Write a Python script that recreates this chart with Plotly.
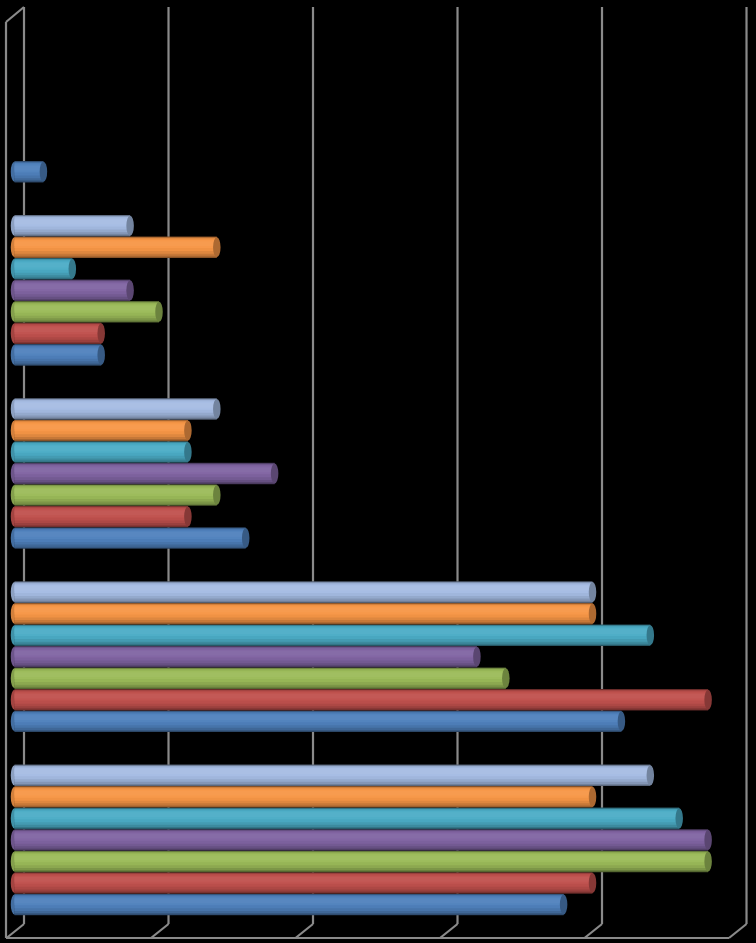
import plotly.graph_objects as go

# ---- data (categories bottom -> top; no labels are shown in the chart) ----
CATEGORIES = ["1", "2", "3", "4", "5"]
SERIES_NAMES = ["S1", "S2", "S3", "S4", "S5", "S6", "S7"]
blue = [19, 21, 8, 3, 1]
red = [20, 24, 6, 3, None]
green = [24, 17, 7, 5, None]
purple = [24, 16, 9, 4, None]
teal = [23, 22, 6, 2, None]
orange = [20, 20, 6, 7, None]
lightblue = [22, 20, 7, 4, None]
GRID_TICKS = [0, 5, 10, 15, 20, 25]

SERIES = [blue, red, green, purple, teal, orange, lightblue]
COLORS = ["#4F81BD", "#C0504D", "#9BBB59", "#8064A2", "#4BACC6", "#F79646", "#A5BCE3"]

W_PX, H_PX = 756, 943
BAR_W = 0.1175                     # thickness of one cylinder (category units)
GROUP = BAR_W * len(SERIES)
X_RANGE = [-0.502, 25.657]
Y_RANGE = [-0.5, 4.5]
Y_DOMAIN = [(H_PX - 931.5) / H_PX, (H_PX - 15.5) / H_PX]


def shade(hexc, f):
    r, g, b = int(hexc[1:3], 16), int(hexc[3:5], 16), int(hexc[5:7], 16)
    if f <= 1:
        r, g, b = r * f, g * f, b * f
    else:
        t = f - 1
        r, g, b = r + (255 - r) * t, g + (255 - g) * t, b + (255 - b) * t
    return "#%02x%02x%02x" % (int(round(r)), int(round(g)), int(round(b)))


# shading bands across the cylinder thickness (bottom frac, top frac, factor)
BANDS = [(0.0, 1.0, 0.50), (0.04, 0.97, 0.68), (0.10, 0.95, 0.80),
         (0.20, 0.93, 0.90), (0.32, 0.90, 0.97), (0.46, 0.84, 1.02),
         (0.56, 0.78, 1.05)]

fig = go.Figure()
shapes = []

# ---- 3D frame / grid (drawn under the bars) ----
GRAY = "#8a8a8a"
LW = 2.2


def py(p):  # pixel row -> paper fraction
    return 1 - p / H_PX


px_per_unit = (W_PX) / (X_RANGE[1] - X_RANGE[0])
back_dx = 9.5 / px_per_unit
floor_dx = 17.5 / px_per_unit
for t in GRID_TICKS:
    xb = t + back_dx
    shapes.append(dict(type="line", xref="x", yref="paper", x0=xb, x1=xb,
                       y0=py(924), y1=py(7), line=dict(color=GRAY, width=LW), layer="below"))
    shapes.append(dict(type="line", xref="x", yref="paper", x0=xb, x1=xb - floor_dx,
                       y0=py(924), y1=py(938), line=dict(color=GRAY, width=LW), layer="below"))
xl = GRID_TICKS[0] + back_dx - 18 / px_per_unit
# front floor edge
shapes.append(dict(type="line", xref="x", yref="paper", x0=xl,
                   x1=GRID_TICKS[-1] + back_dx - floor_dx,
                   y0=py(938), y1=py(938), line=dict(color=GRAY, width=LW), layer="below"))
# left wall
shapes.append(dict(type="line", xref="x", yref="paper", x0=xl, x1=xl,
                   y0=py(938), y1=py(22), line=dict(color=GRAY, width=LW), layer="below"))
shapes.append(dict(type="line", xref="x", yref="paper", x0=xl, x1=GRID_TICKS[0] + back_dx,
                   y0=py(22), y1=py(7), line=dict(color=GRAY, width=LW), layer="below"))

# ---- cylinders ----
cap_dx = 0.13
for s, (vals, col) in enumerate(zip(SERIES, COLORS)):
    ys = [i for i, v in enumerate(vals) if v is not None]
    xs = [v for v in vals if v is not None]
    bottom = -GROUP / 2 + s * BAR_W
    for (f0, f1, fac) in BANDS:
        fig.add_trace(go.Bar(
            orientation="h", x=xs, y=ys, base=0,
            offset=bottom + f0 * BAR_W, width=(f1 - f0) * BAR_W,
            marker=dict(color=shade(col, fac), line=dict(width=0)),
            name=SERIES_NAMES[s], showlegend=False, hoverinfo="skip"))
    for yi, xv in zip(ys, xs):
        y0 = yi + bottom
        y1 = y0 + BAR_W
        shapes.append(dict(type="circle", xref="x", yref="y",
                           x0=xv - cap_dx, x1=xv + cap_dx, y0=y0 + 0.004, y1=y1 - 0.004,
                           fillcolor=shade(col, 0.70), line=dict(width=0), layer="above"))
        shapes.append(dict(type="circle", xref="x", yref="y",
                           x0=-cap_dx, x1=cap_dx, y0=y0 + 0.004, y1=y1 - 0.004,
                           fillcolor=shade(col, 0.85), line=dict(width=0), layer="below"))

fig.update_layout(
    width=W_PX, height=H_PX, autosize=False,
    margin=dict(l=0, r=0, t=0, b=0),
    paper_bgcolor="#000000", plot_bgcolor="#000000",
    barmode="overlay",
    shapes=shapes,
    xaxis=dict(range=X_RANGE, domain=[0, 1], showgrid=False, zeroline=False,
               showticklabels=False, showline=False, fixedrange=True),
    yaxis=dict(range=Y_RANGE, domain=Y_DOMAIN, showgrid=False, zeroline=False,
               showticklabels=False, showline=False, fixedrange=True,
               tickvals=list(range(len(CATEGORIES))), ticktext=CATEGORIES),
    showlegend=False,
)

fig.write_html("out.html", config={"displayModeBar": False},
               post_script="document.body.style.margin='0';document.body.style.background='#000';")
